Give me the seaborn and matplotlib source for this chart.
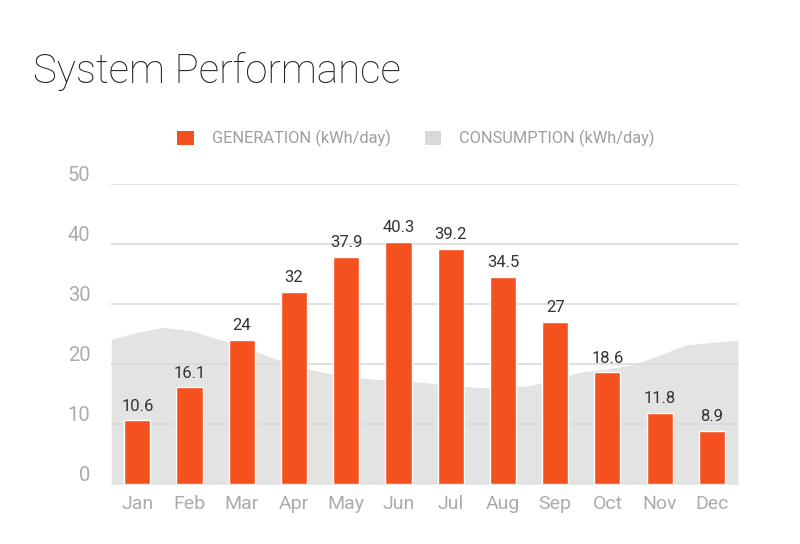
import matplotlib
matplotlib.use("Agg")
import matplotlib.pyplot as plt
from matplotlib.patches import Patch
from matplotlib.transforms import ScaledTranslation
import seaborn as sns
import pandas as pd

months = ["Jan", "Feb", "Mar", "Apr", "May", "Jun",
          "Jul", "Aug", "Sep", "Oct", "Nov", "Dec"]
generation = [10.6, 16.1, 24, 32, 37.9, 40.3, 39.2, 34.5, 27, 18.6, 11.8, 8.9]

consumption_pos = [-0.5, 0, 0.5, 1, 1.5, 2, 2.5, 3, 3.5, 4, 4.5, 5, 5.5,
                   6, 6.5, 7, 7.5, 8, 8.5, 9, 9.5, 10, 10.5, 11, 11.5]
consumption = [24.1, 25.3, 26.1, 25.6, 24.3, 23.0, 21.3, 19.8, 18.7, 18.0,
               17.5, 17.3, 16.9, 16.5, 16.1, 16.0, 16.4, 17.5, 18.7, 19.2,
               19.9, 21.5, 23.2, 23.6, 24.0]

gen_color = "#F4511E"
cons_color = "#E3E3E3"

sns.set_theme(style="white")
plt.rcParams["font.family"] = ["Roboto", "DejaVu Sans"]

df = pd.DataFrame({"month": months, "generation": generation})

fig = plt.figure(figsize=(8, 5.44), dpi=100)
ax = fig.add_axes([0.139, 0.110, 0.7835, 0.552])

ax.fill_between(consumption_pos, consumption, 0, color=cons_color, lw=0, zorder=1)
sns.barplot(data=df, x="month", y="generation", color=gen_color, width=0.5,
            saturation=1, ax=ax, zorder=3)
ax.bar_label(ax.containers[0], labels=[f"{v:g}" for v in generation],
             padding=5, fontsize=12, color="#333333")

ax.set_xlim(-0.5, 11.5)
ax.set_ylim(0, 50)
ax.set_yticks([0, 10, 20, 30, 40, 50])
ax.yaxis.grid(True, color="#DADADA", lw=1.2, zorder=2)
ax.set_axisbelow(False)
for line in ax.get_ygridlines():
    line.set_zorder(2)
ax.set_xlabel("")
ax.set_ylabel("")
sns.despine(ax=ax, left=True, bottom=True)
ax.tick_params(axis="y", length=0, pad=15, labelsize=14.5, labelcolor="#ABABAB")
ax.tick_params(axis="x", length=0, pad=8, labelsize=14, labelcolor="#ABABAB")

# y labels sit just above their gridline
shift = ScaledTranslation(0, 2 / 72, fig.dpi_scale_trans)
for lab in ax.get_yticklabels():
    lab.set_va("baseline")
    lab.set_transform(lab.get_transform() + shift)

fig.text(0.041, 0.847, "System Performance", fontsize=29, fontweight="light",
         color="#222222")

handles = [Patch(facecolor=gen_color, edgecolor="none"),
           Patch(facecolor="#D9D9D9", edgecolor="none")]
fig.legend(handles, ["GENERATION (kWh/day)", "CONSUMPTION (kWh/day)"],
           loc="center", bbox_to_anchor=(0.52, 0.745), ncol=2, frameon=False,
           fontsize=11.8, labelcolor="#9E9E9E", handlelength=1.0, handleheight=1.0,
           handletextpad=1.1, columnspacing=2.1)

fig.savefig("out.png", dpi=100)
